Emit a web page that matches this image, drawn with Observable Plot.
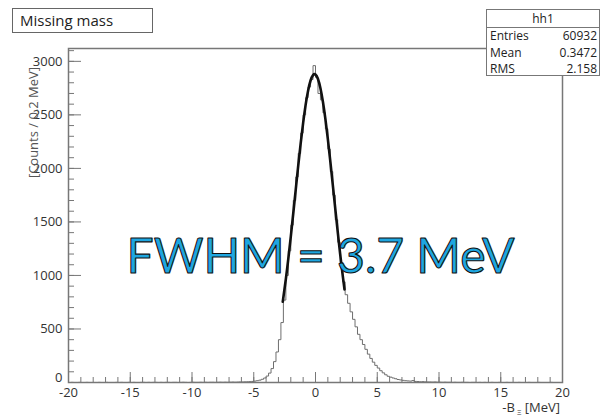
<!DOCTYPE html>
<html>
<head>
<meta charset="utf-8">
<script src="https://cdn.jsdelivr.net/npm/d3@7"></script>
<script src="https://cdn.jsdelivr.net/npm/@observablehq/plot@0.6"></script>
<style>
  html, body { margin: 0; padding: 0; background: #fff; }
  #chart { width: 602px; height: 416px; }
</style>
</head>
<body>
<div id="chart"></div>
<script>
// ---- data ----
const title = "Missing mass";
const statsName = "hh1";
const statsLabels = ["Entries", "Mean", "RMS"];
const statsValues = ["60932", "0.3472", "2.158"];
const annotation = "FWHM = 3.7 MeV";
const yLabel = "[Counts / 0.2 MeV]";

const binStart = -20;
const binWidth = 0.2;
// counts per 0.2 MeV bin, from -20 to 20 MeV (200 bins)
const counts = [
  0, 1, 0, 0, 1, 0, 0, 1, 0, 0,
  0, 0, 1, 0, 0, 1, 0, 0, 0, 1,
  0, 1, 0, 0, 1, 0, 1, 0, 0, 1,
  1, 0, 1, 0, 1, 1, 0, 1, 0, 1,
  1, 0, 1, 1, 0, 1, 2, 1, 0, 1,
  2, 1, 1, 2, 1, 2, 1, 2, 2, 1,
  2, 3, 2, 3, 2, 3, 4, 3, 4, 5,
  5, 6, 7, 8, 10, 13, 17, 22, 30, 42,
  60, 88, 130, 195, 285, 400, 560, 770, 1000, 1230,
  1470, 1700, 1920, 2140, 2330, 2500, 2660, 2760, 2830, 2960,
  2850, 2700, 2640, 2520, 2370, 2180, 1970, 1750, 1520, 1310,
  1110, 940, 820, 740, 660, 590, 520, 450, 400, 355,
  310, 265, 225, 190, 160, 135, 110, 90, 72, 58,
  50, 42, 35, 28, 24, 20, 17, 15, 13, 18,
  10, 9, 7, 8, 6, 5, 5, 4, 5, 3,
  3, 2, 3, 2, 2, 1, 2, 1, 1, 2,
  1, 1, 0, 1, 1, 0, 1, 0, 1, 0,
  0, 1, 0, 0, 1, 0, 0, 1, 0, 0,
  0, 0, 1, 0, 0, 0, 1, 0, 0, 0,
  1, 0, 0, 0, 0, 1, 0, 0, 0, 0
];

// fitted curve
const fitX = [-2.65, -2.4, -2.2, -2.0, -1.8, -1.6, -1.4, -1.2, -1.0, -0.8, -0.6, -0.4, -0.2, 0,
              0.2, 0.4, 0.6, 0.8, 1.0, 1.2, 1.4, 1.6, 1.8, 2.0, 2.2, 2.35];
const fitY = [754, 967, 1157, 1363, 1581, 1802, 2023, 2234, 2425, 2593, 2726, 2821, 2872, 2876,
              2835, 2749, 2622, 2462, 2273, 2066, 1847, 1625, 1406, 1198, 1003, 869];

const xMajor = [-20, -15, -10, -5, 0, 5, 10, 15, 20];
const xMinor = d3.range(-20, 21, 1);
const yMajor = [500, 1000, 1500, 2000, 2500, 3000];
const yZero = [0];
const yMinor = d3.range(0, 3101, 100);

// ---- build tables ----
const hist = counts.map((c, i) => ({x: binStart + i * binWidth, y: c}));
hist.push({x: binStart + counts.length * binWidth, y: counts[counts.length - 1]});
const fit = fitX.map((x, i) => ({x, y: fitY[i]}));

const W = 602, H = 416;
const mL = 68, mR = 40, mT = 48, mB = 34;
const fw = W - mL - mR, fh = H - mT - mB;
const axisColor = "#777";
const font = "'Open Sans', 'DejaVu Sans', sans-serif";

const chart = Plot.plot({
  width: W, height: H,
  marginLeft: mL, marginRight: mR, marginTop: mT, marginBottom: mB,
  style: {fontFamily: font, fontSize: "13px", color: "#333", background: "#fff"},
  x: {domain: [-20, 20]},
  y: {domain: [0, 3120]},
  marks: [
    // inward ticks
    Plot.ruleX(xMinor, {x: d => d, insetTop: fh - 5, stroke: axisColor, strokeWidth: 1}),
    Plot.ruleX(xMajor, {x: d => d, insetTop: fh - 10, stroke: axisColor, strokeWidth: 1}),
    Plot.ruleY(yMinor, {y: d => d, insetRight: fw - 6, stroke: axisColor, strokeWidth: 1}),
    Plot.ruleY(yMajor.concat(yZero), {y: d => d, insetRight: fw - 13, stroke: axisColor, strokeWidth: 1}),
    Plot.axisX({ticks: xMajor, tickSize: 0, tickPadding: 5, tickFormat: d => String(d), label: null, fill: "#333"}),
    Plot.axisY({ticks: yMajor, tickSize: 0, tickPadding: 6, tickFormat: d => String(d), label: null, fill: "#333"}),
    Plot.axisY({ticks: yZero, tickSize: 0, tickPadding: 6, tickFormat: d => String(d), label: null, fill: "#333", dy: -5}),
    Plot.line(hist, {x: "x", y: "y", curve: "step-after", stroke: "#6e6e6e", strokeWidth: 1}),
    Plot.line(fit, {x: "x", y: "y", curve: "natural", stroke: "#111", strokeWidth: 2.6}),
    Plot.frame({stroke: axisColor, strokeWidth: 1.5}),
    Plot.text([yLabel], {text: d => d, frameAnchor: "top-left", rotate: -90, dx: -40, dy: 74,
      textAnchor: "middle", fontSize: 13, fill: "#555"}),
    Plot.text([annotation], {text: d => d, frameAnchor: "middle", dx: 5, dy: 42,
      fontSize: 48, fontFamily: "Lato, 'Open Sans', sans-serif", fill: "#1ea6e0",
      stroke: "#111", strokeWidth: 1.1, paintOrder: "normal"})
  ]
});

const svg = d3.select(chart);
// x axis label with subscript
const xl = svg.append("text")
  .attr("x", 560).attr("y", 412)
  .attr("text-anchor", "end")
  .attr("font-family", font).attr("font-size", 13).attr("fill", "#333");
xl.append("tspan").text("-B");
xl.append("tspan").attr("font-size", 8).attr("dy", 3).text(" \u039E");
xl.append("tspan").attr("dy", -3).text(" [MeV]");

// title box
const tg = svg.append("g").attr("text-anchor", "start");
tg.append("rect").attr("x", 12.5).attr("y", 8.5).attr("width", 140).attr("height", 24)
  .attr("fill", "#fff").attr("stroke", "#666").attr("stroke-width", 1);
tg.append("text").attr("x", 20).attr("y", 26).attr("font-family", font).attr("font-size", 15)
  .attr("fill", "#222").attr("text-anchor", "start").text(title);

// stats box
const sg = svg.append("g").attr("font-family", font).attr("font-size", 12).attr("fill", "#222");
sg.append("rect").attr("x", 486.5).attr("y", 9.5).attr("width", 113).attr("height", 66)
  .attr("fill", "#fff").attr("stroke", "#777").attr("stroke-width", 1);
sg.append("line").attr("x1", 486.5).attr("x2", 599.5).attr("y1", 27.5).attr("y2", 27.5)
  .attr("stroke", "#777");
sg.append("text").attr("x", 543).attr("y", 23).attr("text-anchor", "middle").text(statsName);
statsLabels.forEach((l, i) => {
  sg.append("text").attr("x", 490).attr("y", 40 + i * 16.5).attr("text-anchor", "start").text(l);
  sg.append("text").attr("x", 597).attr("y", 40 + i * 16.5).attr("text-anchor", "end").text(statsValues[i]);
});

document.getElementById("chart").appendChild(chart);
</script>
</body>
</html>
